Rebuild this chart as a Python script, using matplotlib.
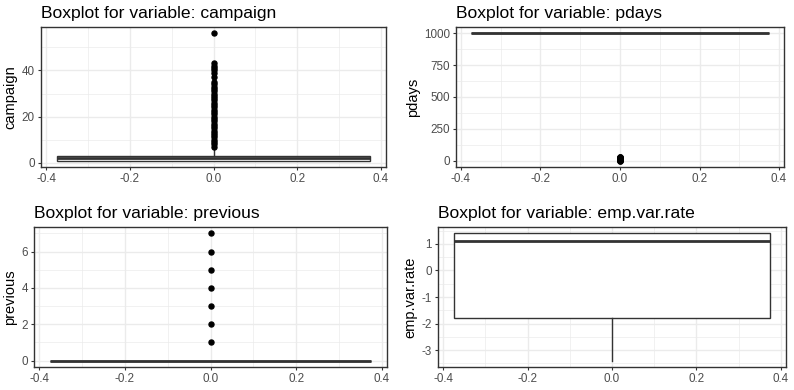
import matplotlib.pyplot as plt
import numpy as np

plt.rcParams["font.family"] = ["Liberation Sans", "DejaVu Sans"]

# summary statistics (ggplot boxplots, one box at x=0)
variables = ["campaign", "pdays", "previous", "emp.var.rate"]
q1 = [1, 999, 0, -1.8]
median = [2, 999, 0, 1.1]
q3 = [3, 999, 0, 1.4]
whisker_low = [1, 999, 0, -3.4]
whisker_high = [6, 999, 0, 1.4]

campaign_outliers = list(range(7, 36)) + [37, 39, 40, 41, 42, 43, 56]
pdays_outliers = list(range(0, 23)) + [25, 26, 27]
previous_outliers = [1, 2, 3, 4, 5, 6, 7]
emp_var_rate_outliers = []
outliers = [campaign_outliers, pdays_outliers, previous_outliers, emp_var_rate_outliers]

y_major = [
    [0, 20, 40],
    [0, 250, 500, 750, 1000],
    [0, 2, 4, 6],
    [-3, -2, -1, 0, 1],
]
x_major = [-0.4, -0.2, 0.0, 0.2, 0.4]

W, H = 794, 390
# panel boxes in pixels: left, top, right, bottom
panels = [
    (41, 27, 386, 167),
    (456, 27, 784, 167),
    (34, 227, 387, 367),
    (438, 227, 786, 367),
]

fig = plt.figure(figsize=(W / 100, H / 100), dpi=100)
grey20 = "#333333"
grey30 = "#4D4D4D"
grid = "#EBEBEB"

for i, var in enumerate(variables):
    l, t, r, b = panels[i]
    ax = fig.add_axes([l / W, 1 - b / H, (r - l) / W, (b - t) / H])

    stats = [{
        "med": median[i], "q1": q1[i], "q3": q3[i],
        "whislo": whisker_low[i], "whishi": whisker_high[i],
        "fliers": outliers[i],
    }]
    ax.bxp(
        stats, positions=[0], widths=0.75, showcaps=False, patch_artist=True,
        boxprops=dict(facecolor="white", edgecolor=grey20, linewidth=1.0),
        whiskerprops=dict(color=grey20, linewidth=1.0),
        medianprops=dict(color=grey20, linewidth=2.0),
        flierprops=dict(marker="o", markerfacecolor="black", markeredgecolor="black",
                        markersize=3.6, linestyle="none"),
        zorder=3,
    )

    # ggplot-style limits with 5% expansion
    data_lo = min([whisker_low[i]] + outliers[i])
    data_hi = max([whisker_high[i]] + outliers[i])
    pad = (data_hi - data_lo) * 0.05
    ax.set_ylim(data_lo - pad, data_hi + pad)
    ax.set_xlim(-0.4125, 0.4125)

    ax.set_xticks(x_major)
    ax.set_xticklabels(["-0.4", "-0.2", "0.0", "0.2", "0.4"])
    ax.set_xticks([-0.3, -0.1, 0.1, 0.3], minor=True)
    ym = y_major[i]
    ax.set_yticks(ym)
    ax.set_yticklabels([str(v) for v in ym])
    step = ym[1] - ym[0]
    minors = [v + step / 2 for v in [ym[0] - step] + ym]
    lo, hi = ax.get_ylim()
    ax.set_yticks([v for v in minors if lo < v < hi], minor=True)
    ax.set_ylim(lo, hi)

    ax.grid(True, which="major", color=grid, linewidth=1.0, zorder=0)
    ax.grid(True, which="minor", color=grid, linewidth=0.5, zorder=0)
    ax.set_axisbelow(True)

    for s in ax.spines.values():
        s.set_color(grey20)
        s.set_linewidth(1.0)
    ax.tick_params(which="major", length=2.5, width=0.8, color=grey20,
                   labelsize=8.4, labelcolor=grey30, pad=2)
    ax.tick_params(which="minor", length=0)

    ax.set_ylabel(var, fontsize=10.5, color="black", labelpad=3)
    ax.set_title("Boxplot for variable: " + var, loc="left", fontsize=12.6,
                 color="black", pad=6.5)

fig.savefig("out.png", dpi=100)
